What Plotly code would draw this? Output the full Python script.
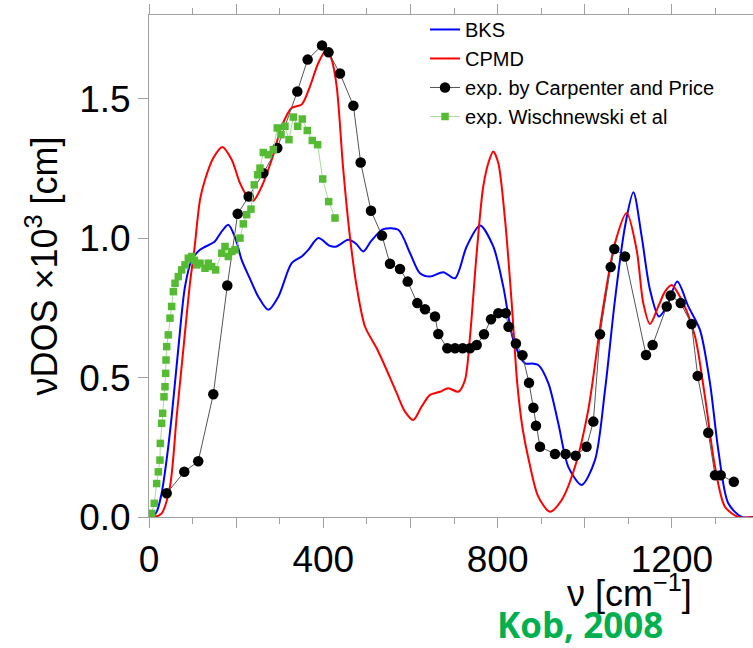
import plotly.graph_objects as go

bks_nu = [0, 8, 18, 29, 40, 52, 67, 82.6, 98, 117, 151, 165, 182, 198, 212.6, 230, 250.8, 273.8, 296.8,
          327.4, 350.4, 365.6, 388.6, 415, 430, 457, 475, 491.8, 510, 537.7, 572, 599, 621.8, 644.8,
          675.3, 702, 729, 759.5, 790, 813, 836, 862.8, 880, 893.3, 916.3, 939.2, 962.2, 992.8, 1023.4,
          1046.4, 1069.3, 1092.3, 1111.5, 1130.5, 1149.6, 1170, 1188, 1212.3, 1237.5, 1264.3, 1287.3,
          1306.4, 1329.3, 1360, 1386]
bks_vdos = [0, 0, 0.02, 0.085, 0.2, 0.36, 0.6, 0.826, 0.922, 0.958, 0.988, 1.02, 1.048, 1.0, 0.922, 0.86,
            0.79, 0.743, 0.79, 0.91, 0.934, 0.958, 1.0, 0.972, 0.97, 0.994, 0.98, 0.952, 0.99, 1.032, 1.03,
            0.946, 0.874, 0.862, 0.878, 0.856, 0.97, 1.045, 0.97, 0.826, 0.635, 0.551, 0.55, 0.545, 0.48,
            0.336, 0.18, 0.115, 0.204, 0.455, 0.779, 1.042, 1.164, 1.006, 0.815, 0.719, 0.755, 0.844,
            0.755, 0.671, 0.48, 0.24, 0.049, 0.0, 0.0]

cpmd_nu = [0, 12, 29, 48, 63.5, 78.7, 94, 104, 117, 128.5, 147.5, 168.2, 189.8, 208.8, 228, 239.4, 258.6,
           281.6, 304.5, 327.4, 350.4, 369.4, 388.5, 407.8, 419.2, 430.7, 445.8, 461, 476.6, 495.6, 522.5,
           545.4, 568.4, 587.4, 606.5, 625.7, 644.8, 667.7, 686.8, 709.7, 725, 736.6, 751.9, 767, 781,
           790, 801.5, 817, 832.3, 845, 857, 872, 893.3, 920, 947, 977.5, 1008, 1038.8, 1069.3, 1096.1,
           1119, 1134.2, 1149.6, 1168.7, 1184, 1199.4, 1222.3, 1252.9, 1275.8, 1298.8, 1321.7, 1352.3, 1386]
cpmd_vdos = [0, 0, 0.013, 0.108, 0.36, 0.6, 0.838, 0.958, 1.137, 1.209, 1.287, 1.327, 1.281, 1.197, 1.144,
             1.134, 1.185, 1.281, 1.401, 1.467, 1.479, 1.544, 1.628, 1.676, 1.64, 1.544, 1.245, 1.006,
             0.826, 0.683, 0.605, 0.527, 0.444, 0.378, 0.348, 0.396, 0.438, 0.449, 0.462, 0.449, 0.491,
             0.647, 0.946, 1.185, 1.281, 1.311, 1.269, 1.066, 0.767, 0.48, 0.32, 0.2, 0.073, 0.019, 0.061,
             0.18, 0.384, 0.719, 0.982, 1.09, 0.958, 0.767, 0.692, 0.755, 0.808, 0.832, 0.778, 0.647,
             0.431, 0.18, 0.037, 0.0, 0.0]

cp_nu = [40.6, 81, 113, 147.6, 179.7, 203.5, 228.7, 262.4, 294.4, 340.3, 364, 397, 412, 438.3, 469, 485.7,
         509.4, 534.6, 553, 576, 593.6, 615.7, 633.3, 656.3, 663.9, 684.5, 702.2, 719.8, 736.6, 752, 768.7,
         784.8, 801.6, 818.5, 825, 842, 857, 872, 882, 888, 897.2, 931.6, 956, 979, 1004, 1019.6, 1034.9,
         1059.4, 1067.8, 1092.3, 1140.5, 1155.7, 1188, 1197, 1220, 1245, 1259, 1283.4, 1298.8, 1311.8, 1342]
cp_vdos = [0.085, 0.162, 0.2, 0.44, 0.83, 1.087, 1.149, 1.233, 1.323, 1.526, 1.64, 1.691, 1.666, 1.59, 1.475,
           1.271, 1.098, 1.009, 0.908, 0.889, 0.844, 0.767, 0.745, 0.719, 0.656, 0.605, 0.605, 0.605, 0.605,
           0.617, 0.655, 0.709, 0.731, 0.731, 0.682, 0.622, 0.58, 0.481, 0.392, 0.327, 0.252, 0.226, 0.226,
           0.22, 0.252, 0.342, 0.655, 0.896, 0.961, 0.934, 0.581, 0.617, 0.755, 0.794, 0.767, 0.692, 0.506,
           0.302, 0.15, 0.15, 0.126]

wi_nu = [6.2, 12, 17.6, 21.4, 25.2, 26, 29, 31.3, 34.4, 36.7, 38.3, 39, 40.6, 44.3, 48.2, 52.1, 55.8, 59.7,
         67.2, 75, 82.6, 90.2, 98, 104, 109.5, 117, 128.5, 136, 143.9, 153, 166.8, 174.4, 182, 189.8,
         197.3, 208.8, 216.4, 224.2, 234, 241.6, 249.4, 254.7, 262.3, 273.8, 285.2, 294.4, 302.9, 312,
         321.2, 331.2, 341.2, 351.8, 363.2, 374.7, 387, 398.6, 412.3, 426.8]
wi_vdos = [0.013, 0.049, 0.12, 0.162, 0.204, 0.264, 0.336, 0.372, 0.431, 0.467, 0.515, 0.563, 0.611, 0.653,
           0.713, 0.755, 0.808, 0.838, 0.862, 0.886, 0.904, 0.928, 0.934, 0.92, 0.904, 0.91, 0.892, 0.91,
           0.898, 0.886, 0.946, 0.97, 0.934, 0.952, 0.958, 1.0, 1.051, 1.084, 1.104, 1.191, 1.227, 1.251,
           1.307, 1.299, 1.317, 1.395, 1.371, 1.401, 1.353, 1.434, 1.401, 1.427, 1.386, 1.35, 1.335, 1.212,
           1.131, 1.072]

x_tickvals = [0, 200, 400, 600, 800, 1000, 1200, 1400]
x_ticktext = ["0", "", "400", "", "800", "", "1200", ""]
y_tickvals = [0, 0.5, 1.0, 1.5]
y_ticktext = ["0.0", "0.5", "1.0", "1.5"]

FONT = "Liberation Sans, Arial, sans-serif"

fig = go.Figure()
fig.add_trace(go.Scatter(x=bks_nu, y=bks_vdos, mode="lines", name="BKS",
                         line=dict(color="#0000ff", width=2, shape="spline", smoothing=0.8)))
fig.add_trace(go.Scatter(x=cpmd_nu, y=cpmd_vdos, mode="lines", name="CPMD",
                         line=dict(color="#ff0000", width=2, shape="spline", smoothing=0.8)))
fig.add_trace(go.Scatter(x=cp_nu, y=cp_vdos, mode="lines+markers", name="exp. by Carpenter and Price",
                         line=dict(color="#555555", width=1),
                         marker=dict(color="black", size=10.5, symbol="circle")))
fig.add_trace(go.Scatter(x=wi_nu, y=wi_vdos, mode="lines+markers", name="exp. Wischnewski et al",
                         line=dict(color="#a8dc98", width=1),
                         marker=dict(color="#55bb33", size=7.5, symbol="square")))

axis_common = dict(showgrid=False, zeroline=False, showline=True, linecolor="#a0a0a0", linewidth=1,
                   ticks="outside", tickcolor="#a0a0a0", automargin=False,
                   tickfont=dict(family=FONT, size=37, color="black"))

fig.update_xaxes(range=[0, 1386], tickmode="array", tickvals=x_tickvals, ticktext=x_ticktext,
                 ticklen=10, mirror="ticks",
                 minor=dict(dtick=100, ticks="outside", ticklen=6, tickcolor="#a0a0a0"),
                 **axis_common)
fig.update_yaxes(range=[0, 1.8], tickmode="array", tickvals=y_tickvals, ticktext=y_ticktext,
                 ticklen=10, mirror=False,
                 title=dict(text="νDOS ×10<sup>3</sup> [cm]", font=dict(family=FONT, size=36, color="black"),
                            standoff=10),
                 **axis_common)

fig.update_layout(
    width=753, height=648,
    margin=dict(l=149, r=0, t=14.5, b=131.1),
    paper_bgcolor="white", plot_bgcolor="white",
    showlegend=True,
    legend=dict(x=0.457, y=1.01, xanchor="left", yanchor="top", bgcolor="rgba(0,0,0,0)",
                font=dict(family=FONT, size=20, color="black"), tracegroupgap=0, itemwidth=30),
    annotations=[
        dict(text="ν [cm<sup>−1</sup>]", xref="paper", yref="paper", x=(629 - 149) / 604, y=-(591 - 516.9) / 502.4,
             xanchor="center", yanchor="middle", showarrow=False,
             font=dict(family=FONT, size=36, color="black")),
        dict(text="<b>Kob, 2008</b>", xref="paper", yref="paper", x=(580 - 149) / 604, y=-(624.5 - 516.9) / 502.4,
             xanchor="center", yanchor="middle", showarrow=False,
             font=dict(family="Open Sans, sans-serif", size=35, color="#00b050")),
    ],
)

fig.write_html("out.html")
